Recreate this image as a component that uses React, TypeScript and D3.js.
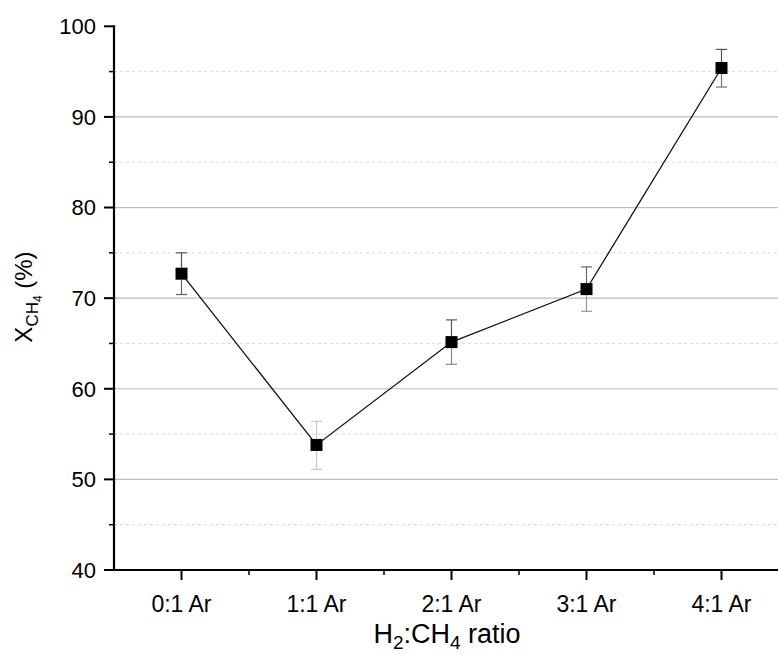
import React from "react";
import * as d3 from "d3";

const categories = ["0:1 Ar", "1:1 Ar", "2:1 Ar", "3:1 Ar", "4:1 Ar"];
const conversion = [72.7, 53.8, 65.15, 71.0, 95.4];
const errUpper = [2.3, 2.6, 2.45, 2.45, 2.05];
const errLower = [2.3, 2.7, 2.45, 2.45, 2.1];
const errColorUp = ["#555", "#c8c8c8", "#555", "#666", "#555"];
const errColorDown = ["#666", "#c8c8c8", "#888", "#999", "#777"];
const yMajorTicks = [40, 50, 60, 70, 80, 90, 100];
const yMinorTicks = [45, 55, 65, 75, 85, 95];
const yGrid = [50, 60, 70, 80, 90];

const W = 778;
const H = 655;
const left = 114;
const right = 789;
const top = 26.3;
const bottom = 570;

export default function App() {
  const x = d3.scaleLinear().domain([-0.5, categories.length - 0.5]).range([left, right]);
  const y = d3.scaleLinear().domain([40, 100]).range([bottom, top]);
  const line = d3
    .line<number>()
    .x((_, i) => x(i))
    .y((d) => y(d));
  const font = "Arial, 'Liberation Sans', sans-serif";
  const xMinor = d3.range(0, categories.length - 1).map((i) => i + 0.5);
  const ms = 12;
  const cap = 5.5;

  return (
    <svg
      width={W}
      height={H}
      style={{ position: "absolute", left: 0, top: 0, background: "#fff" }}
      fontFamily={font}
    >
      {/* minor dotted grid */}
      {yMinorTicks.map((t) => (
        <line key={"mg" + t} x1={left} x2={W} y1={y(t)} y2={y(t)} stroke="#d9d9d9" strokeWidth={1} strokeDasharray="3,3" />
      ))}
      {/* major grid */}
      {yGrid.map((t) => (
        <line key={"g" + t} x1={left} x2={W} y1={y(t)} y2={y(t)} stroke="#bdbdbd" strokeWidth={1.2} />
      ))}

      {/* error bars */}
      {conversion.map((v, i) => {
        const cx = x(i);
        const yt = y(v + errUpper[i]);
        const yb = y(v - errLower[i]);
        return (
          <g key={"e" + i} strokeWidth={1.2}>
            <line x1={cx} x2={cx} y1={yt} y2={y(v)} stroke={errColorUp[i]} />
            <line x1={cx - cap} x2={cx + cap} y1={yt} y2={yt} stroke={errColorUp[i]} />
            <line x1={cx} x2={cx} y1={y(v)} y2={yb} stroke={errColorDown[i]} />
            <line x1={cx - cap} x2={cx + cap} y1={yb} y2={yb} stroke={errColorDown[i]} />
          </g>
        );
      })}

      {/* series line */}
      <path d={line(conversion) || ""} fill="none" stroke="#111" strokeWidth={1.3} />

      {/* markers */}
      {conversion.map((v, i) => (
        <rect key={"m" + i} x={x(i) - ms / 2} y={y(v) - ms / 2} width={ms} height={ms} fill="#000" />
      ))}

      {/* y axis */}
      <line x1={left} x2={left} y1={top - 1} y2={bottom + 1} stroke="#000" strokeWidth={2.2} />
      {yMajorTicks.map((t) => (
        <g key={"yt" + t}>
          <line x1={left - 10} x2={left} y1={y(t)} y2={y(t)} stroke="#000" strokeWidth={2} />
          <text x={96} y={y(t)} dy="0.36em" textAnchor="end" fontSize={22} fill="#000">
            {t}
          </text>
        </g>
      ))}
      {yMinorTicks.map((t) => (
        <line key={"ym" + t} x1={left - 5} x2={left} y1={y(t)} y2={y(t)} stroke="#000" strokeWidth={1.5} />
      ))}

      {/* x axis */}
      <line x1={left - 1} x2={W} y1={bottom} y2={bottom} stroke="#000" strokeWidth={2.2} />
      {categories.map((c, i) => (
        <g key={"xt" + i}>
          <line x1={x(i)} x2={x(i)} y1={bottom} y2={bottom + 10} stroke="#000" strokeWidth={2} />
          <text x={x(i)} y={612} textAnchor="middle" fontSize={23} fill="#000">
            {c}
          </text>
        </g>
      ))}
      {xMinor.map((t) => (
        <line key={"xm" + t} x1={x(t)} x2={x(t)} y1={bottom} y2={bottom + 5} stroke="#000" strokeWidth={1.5} />
      ))}

      {/* axis titles */}
      <text x={447} y={643} textAnchor="middle" fontSize={27} fill="#000">
        H<tspan fontSize={19} dy={6}>2</tspan>
        <tspan dy={-6}>:CH</tspan>
        <tspan fontSize={19} dy={6}>4</tspan>
        <tspan dy={-6}> ratio</tspan>
      </text>
      <text transform="translate(32,297) rotate(-90)" textAnchor="middle" fontSize={24} fill="#000">
        X<tspan fontSize={17} dy={6}>CH</tspan>
        <tspan fontSize={12} dy={4}>4</tspan>
        <tspan dy={-10}> (%)</tspan>
      </text>
    </svg>
  );
}
